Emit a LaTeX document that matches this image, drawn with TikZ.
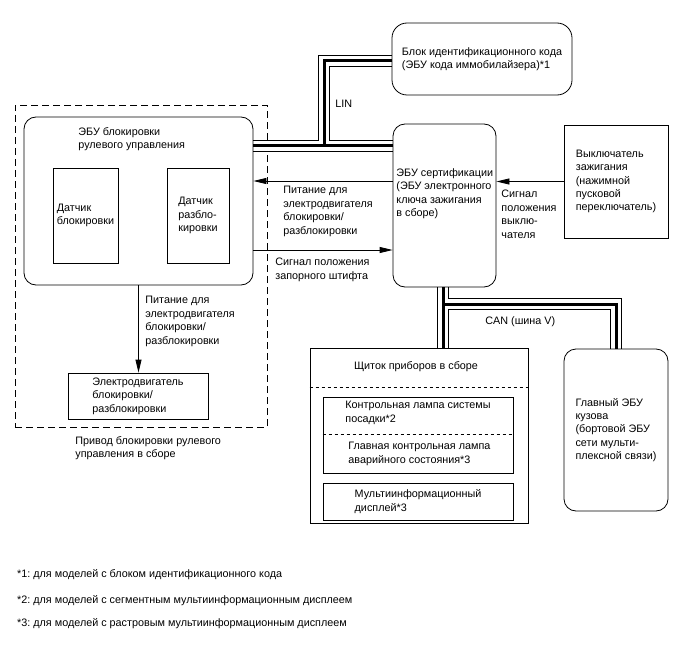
\documentclass[tikz,border=0pt]{standalone}
\usepackage{fontspec}
\setmainfont{Liberation Sans}
\frenchspacing
\usetikzlibrary{arrows.meta,positioning,calc,backgrounds}

\begin{document}
\begin{tikzpicture}[x=1pt,y=-1pt,line width=0.8pt,
    font=\fontsize{10.8}{13.4}\selectfont,
    rbox/.style={draw,rounded corners=12pt,align=left,inner sep=0pt},
    sbox/.style={draw,align=left,inner sep=0pt},
    lbl/.style={align=left,inner sep=0pt,anchor=north west},
    arr/.style={-{Triangle[length=13pt,width=6pt]}},
]
    \useasboundingbox (0,0) rectangle (688,658);

    % steering lock actuator
    \node[rbox,minimum width=229pt,minimum height=168pt] (steer) at (138.5,201) {};
    \node[lbl] (steertxt) at (78,127) {ЭБУ блокировки\\рулевого управления};
    \node[sbox,minimum width=65pt,minimum height=95pt] (lock) at (85.5,215.5) {Датчик\\блокировки};
    \node[sbox,minimum width=62pt,minimum height=95pt] (unlock) at (198,215.5) {Датчик\\разбло-\\кировки};
    \node[sbox,minimum width=140pt,minimum height=46pt] (motor) at (138,396) {Электродвигатель\\блокировки/\\разблокировки};
    \node[lbl] (drivetxt) at (75,436) {Привод блокировки рулевого\\управления в сборе};

    % ECUs on the right
    \node[rbox,rounded corners=15pt,minimum width=180pt,minimum height=72pt] (immo) at (482,59) {Блок идентификационного кода\\(ЭБУ кода иммобилайзера)*1};
    \node[rbox,minimum width=103pt,minimum height=163pt] (cert) at (444.5,205.5) {};
    \node[lbl] (certtxt) at (396,168) {ЭБУ сертификации\\(ЭБУ электронного\\ключа зажигания\\в сборе)};
    \node[sbox,minimum width=104pt,minimum height=113pt] (ign) at (616,181.5) {Выключатель\\зажигания\\(нажимной\\пусковой\\переключатель)};

    % combination meter
    \node[sbox,minimum width=218pt,minimum height=175pt] (meter) at (419,435.5) {};
    \node[inner sep=0pt] (metertxt) at (416,367) {Щиток приборов в сборе};
    \draw[dashed] ([yshift=48.5pt]meter.west) -- ([yshift=48.5pt]meter.east);
    \node[sbox,minimum width=190pt,minimum height=76pt] (lamps) at (418,435) {};
    \draw[dashed] ([yshift=1pt]lamps.west) -- ([yshift=1pt]lamps.east);
    \node[lbl] (lamp1txt) at (345,401) {Контрольная лампа системы\\посадки*2};
    \node[lbl] (lamp2txt) at (348,442) {Главная контрольная лампа\\аварийного состояния*3};
    \node[sbox,minimum width=190pt,minimum height=37pt] (disp) at (418,501.5) {Мультиинформационный\\дисплей*3};
    \node[rbox,minimum width=104pt,minimum height=162pt] (body) at (616,430) {Главный ЭБУ\\кузова\\(бортовой ЭБУ\\сети мульти-\\плексной связи)};

    % signal lines
    \coordinate (pwrA) at ([yshift=24.5pt]cert.west);
    \coordinate (pinA) at ([yshift=-49pt]steer.east);
    \draw[arr] (pwrA) -- (pwrA -| steer.east);
    \draw[arr] (pinA) -- (pinA -| cert.west);
    \draw[arr] (ign.west) -- (ign.west -| cert.east);
    \draw[arr] (steer.south) -- (steer.south |- motor.north);
    \node[lbl] (pwrtxt) at (283,186) {Питание для\\электродвигателя\\блокировки/\\разблокировки};
    \node[lbl] (pintxt) at (275,258) {Сигнал положения\\запорного штифта};
    \node[lbl] (swtxt) at (501,190) {Сигнал\\положения\\выклю-\\чателя};
    \node[lbl] (motpwrtxt) at (145,296) {Питание для\\электродвигателя\\блокировки/\\разблокировки};

    % bus lines
    \coordinate (linA) at ([yshift=55pt]steer.east);
    \coordinate (linB) at (linA -| cert.west);
    \coordinate (linJ) at ($(linA)+(71,0)$);
    \coordinate (linT) at ($(linJ |- immo.west)+(0,2)$);
    \coordinate (canA) at ([xshift=-1.5pt]cert.south);
    \coordinate (canB) at (canA |- meter.north);
    \coordinate (canJ) at ($(canA)+(0,17)$);
    \coordinate (canT) at (canJ -| body.north);
    \node[lbl] (lintxt) at (335,100) {LIN};
    \node[lbl] (cantxt) at (485,316) {CAN (шина V)};

    \begin{pgfonlayer}{background}
        \node[sbox,dash pattern=on 7pt off 4pt,minimum width=252pt,minimum height=322pt] (drive) at (141,266) {};
        \foreach \w/\c in {12/black,10/white,3/black}
            \draw[line width=\w pt,\c,line join=miter]
                (linA) -- (linB) (linJ) -- (linT) -- (linT -| immo.west)
                (canA) -- (canB) (canJ) -- (canT) -- (body.north);
    \end{pgfonlayer}

    % notes
    \node[lbl] (note1) at (17,569) {*1: для моделей с блоком идентификационного кода};
    \node[lbl] (note2) at (17,595) {*2: для моделей с сегментным мультиинформационным дисплеем};
    \node[lbl] (note3) at (17,618) {*3: для моделей с растровым мультиинформационным дисплеем};
\end{tikzpicture}
\end{document}
